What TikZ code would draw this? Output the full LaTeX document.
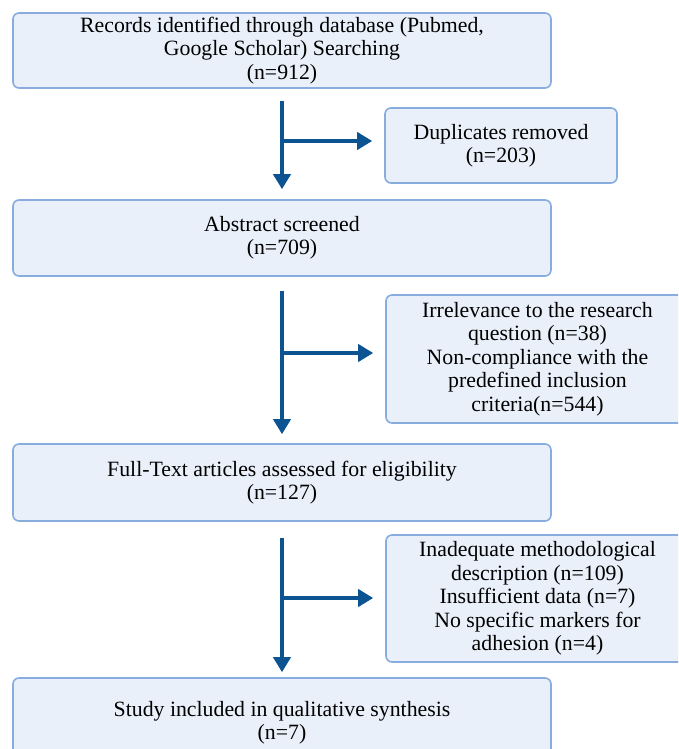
\documentclass[tikz,border=0pt]{standalone}
\usepackage{fontspec}
\setmainfont{Liberation Serif}
\usetikzlibrary{arrows.meta}
\definecolor{boxfill}{HTML}{E9F0FA}
\definecolor{boxline}{HTML}{88ACDD}
\definecolor{flowblue}{HTML}{0B5391}
\tikzset{
  >={Triangle[width=17pt,length=15pt]},
}
\tikzstyle{box}=[draw=boxline,fill=boxfill,line width=1.6pt,rounded corners=6pt,align=center,inner sep=0pt]
\tikzstyle{wide}=[box,minimum width=538pt]
\tikzstyle{side}=[box,minimum width=303pt]
\tikzstyle{every node}=[font=\fontsize{21.8}{23.4}\selectfont]
\tikzstyle{flow}=[draw=flowblue,line width=4pt,->]

\begin{document}
\begin{tikzpicture}[x=1pt,y=-1pt]
  \useasboundingbox (0,0) rectangle (678,749);
  \clip (0,0) rectangle (678,749);
  % main column
  \node[wide,minimum height=75pt] (rec) at (282,50.5) {Records identified through database (Pubmed,\\Google Scholar) Searching\\(n=912)};
  \node[wide,minimum height=76pt] (abs) at (282,238) {Abstract screened\\(n=709)};
  \node[wide,minimum height=77pt] (full) at (282,482.5) {Full-Text articles assessed for eligibility\\(n=127)};
  \node[wide,minimum height=90pt] (incl) at (282,723) {Study included in qualitative synthesis\\(n=7)};
  % excluded records
  \node[box,minimum width=232pt,minimum height=75pt] (dup) at (501,145.5) {Duplicates removed\\(n=203)};
  \node[side,minimum height=128pt] (irr) at (537.5,359) {Irrelevance to the research\\question (n=38)\\Non-compliance with the\\predefined inclusion\\criteria(n=544)};
  \node[side,minimum height=127pt] (inad) at (537.5,598.5) {Inadequate methodological\\description (n=109)\\Insufficient data (n=7)\\No specific markers for\\adhesion (n=4)};
  % arrows
  \draw[flow,shorten <=12pt,shorten >=10pt] (rec.south) -- (abs.north);
  \draw[flow,shorten <=14pt,shorten >=9pt] (abs.south) -- (full.north);
  \draw[flow,shorten <=16pt,shorten >=5pt] (full.south) -- (incl.north);
  \coordinate (b1) at (282,141);
  \coordinate (b2) at (282,353);
  \coordinate (b3) at (282,598);
  \draw[flow,shorten >=12pt] (b1) -- (b1 -| dup.west);
  \draw[flow,shorten >=12pt] (b2) -- (b2 -| irr.west);
  \draw[flow,shorten >=12pt] (b3) -- (b3 -| inad.west);
\end{tikzpicture}
\end{document}
